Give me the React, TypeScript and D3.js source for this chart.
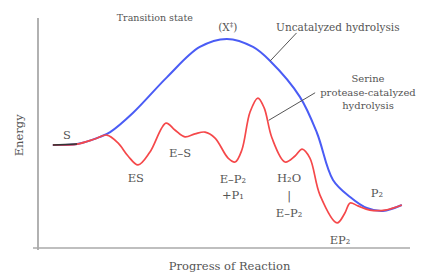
import React from 'react';
import * as d3 from 'd3';

// progress (0-100) vs energy (0-100)
const uncatProgress = [4.0, 10.5, 16.7, 19.4, 25.5, 34.7, 43.5, 50.8, 57.8, 62.4, 70.4, 75.0, 79.3, 83.9, 88.4, 92.7, 97.8];
const uncatEnergy = [44.8, 45.2, 48.3, 50.4, 58.7, 74.3, 87.4, 90.9, 87.4, 81.3, 65.7, 50.0, 29.6, 22.2, 17.4, 16.1, 18.7];

const catProgress = [4.0, 10.5, 15.3, 18.5, 21.5, 24.2, 26.9, 30.1, 34.4, 36.8, 39.5, 42.2, 44.9, 47.6, 51.1, 53.0, 54.8, 57.0, 59.1, 60.8, 62.9, 66.4, 69.1, 71.0, 73.1, 75.8, 80.4, 82.5, 83.9, 86.0, 89.2, 93.3, 97.8];
const catEnergy = [44.8, 45.2, 47.4, 49.1, 45.7, 40.0, 36.1, 41.7, 54.3, 51.3, 48.3, 49.6, 50.4, 47.8, 39.1, 37.4, 42.6, 59.1, 65.2, 60.9, 47.8, 37.4, 40.0, 43.0, 39.1, 23.0, 10.9, 15.2, 19.6, 18.3, 16.5, 16.5, 18.7];

// state labels: [text lines, progress, energy, line gap]
const stateLabels: [string[], number, number, number][] = [
  [['S'], 7.8, 47.6, 0],
  [['ES'], 26.3, 28.7, 0],
  [['E–S'], 38.2, 39.6, 0],
  [['E–P₂', '+P₁'], 52.4, 28.3, 16],
  [['H₂O', '|', 'E–P₂'], 67.5, 28.7, 17.5],
  [['EP₂'], 81.2, 1.9, 0],
  [['P₂'], 91.1, 22.0, 0],
];

const width = 433;
const height = 275;

const App = () => {
  const x = d3.scaleLinear().domain([0, 100]).range([38, 410]);
  const y = d3.scaleLinear().domain([0, 100]).range([248, 18]);

  const line = d3.line<[number, number]>()
    .x(d => x(d[0]))
    .y(d => y(d[1]))
    .curve(d3.curveCatmullRom.alpha(0.5));

  const uncat = uncatProgress.map((p, i) => [p, uncatEnergy[i]] as [number, number]);
  const cat = catProgress.map((p, i) => [p, catEnergy[i]] as [number, number]);

  const font = 'DejaVu Serif, serif';
  const txt = '#555';

  return (
    <svg width={width} height={height} style={{ position: 'absolute', left: 0, top: 0 }}
      fontFamily={font} fontSize={11} fill={txt}>
      <rect width={width} height={height} fill="#fff" />
      {/* axes */}
      <line x1={x(0)} x2={x(0)} y1={y(100)} y2={y(0) + 2} stroke="#888" strokeWidth={1.3} />
      <line x1={x(0) - 5} x2={x(100)} y1={y(0)} y2={y(0)} stroke="#aaa" strokeWidth={1.3} />
      <text x={23} y={y(49)} fontSize={11.5} textAnchor="middle"
        transform={`rotate(-90, 23, ${y(49)})`}>Energy</text>
      <text x={x(51.5)} y={270} textAnchor="middle" fontSize={11.5}>Progress of Reaction</text>

      {/* curves */}
      <path d={line(uncat) || ''} fill="none" stroke="#4a5cf5" strokeWidth={2} />
      <path d={line(cat) || ''} fill="none" stroke="#f5484a" strokeWidth={1.7} />
      <path d={line(cat.slice(0, 2)) || ''} fill="none" stroke="#333" strokeWidth={1.5} />

      {/* state labels */}
      {stateLabels.map(([lines, p, e, gap], i) => (
        <text key={i} x={x(p)} y={y(e)} textAnchor="middle" fontSize={11.5}>
          {lines.map((l, j) => (
            <tspan key={j} x={x(p)} dy={j === 0 ? 0 : gap}>{l}</tspan>
          ))}
        </text>
      ))}

      {/* annotations */}
      <text x={x(31.4)} y={21} textAnchor="middle" fontSize={9.5}>Transition state</text>
      <text x={x(51.0)} y={31} textAnchor="middle" fontSize={10.5}>(X<tspan dy={-4} fontSize={7}>‡</tspan><tspan dy={4}>)</tspan></text>
      <text x={x(80.6)} y={31} textAnchor="middle" fontSize={10.5}>Uncatalyzed hydrolysis</text>
      <text x={x(88.7)} y={82} textAnchor="middle" fontSize={10}>
        <tspan x={x(88.7)} dy={0}>Serine</tspan>
        <tspan x={x(88.7)} dy={13.5}>protease-catalyzed</tspan>
        <tspan x={x(88.7)} dy={13.5}>hydrolysis</tspan>
      </text>
      <line x1={x(62.4)} y1={y(81.3)} x2={x(69.5)} y2={y(93.5)} stroke="#555" strokeWidth={1} />
      <line x1={x(62.0)} y1={y(55.5)} x2={x(74.5)} y2={y(67.5)} stroke="#555" strokeWidth={1} />
    </svg>
  );
};

export default App;
